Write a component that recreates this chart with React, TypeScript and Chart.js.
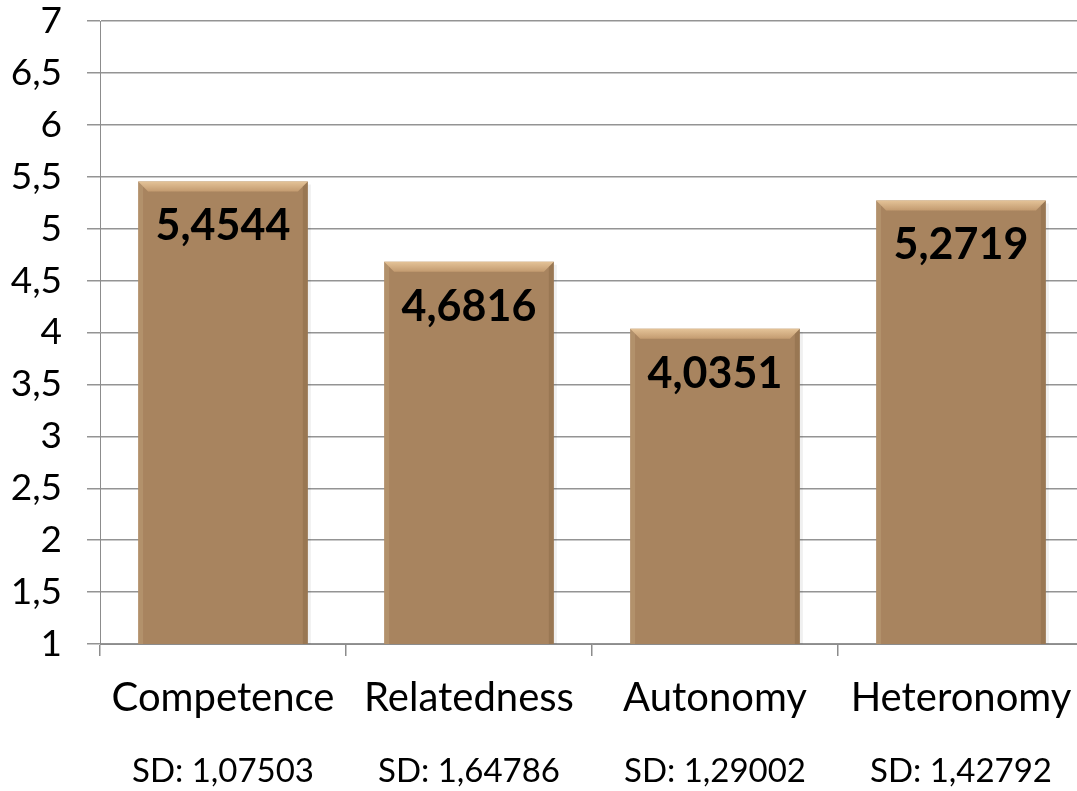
import { useEffect, useRef } from 'react';
import { Chart, registerables } from 'chart.js';

Chart.register(...registerables);

const categories = ['Competence', 'Relatedness', 'Autonomy', 'Heteronomy'];
const means = [5.4544, 4.6816, 4.0351, 5.2719];
const sdLabels = ['SD: 1,07503', 'SD: 1,64786', 'SD: 1,29002', 'SD: 1,42792'];
const yMin = 1;
const yMax = 7;
const yStep = 0.5;

const fmt = (v: number) => String(v).replace('.', ',');

export default function App() {
  const ref = useRef<HTMLCanvasElement>(null);

  useEffect(() => {
    document.body.style.margin = '0';
    const bevel = {
      id: 'bevel',
      afterDatasetsDraw(chart: any) {
        const ctx = chart.ctx;
        const area = chart.chartArea;
        chart.getDatasetMeta(0).data.forEach((el: any) => {
          const { x, y, width, base } = el.getProps(['x', 'y', 'width', 'base'], true);
          const l = x - width / 2;
          const r = x + width / 2;
          const t = y;
          const b = Math.min(base, area.bottom);
          const bv = 10;
          ctx.save();
          ctx.fillStyle = 'rgba(0,0,0,0.06)';
          ctx.fillRect(r, t + 3, 3, b - t - 3);
          const g = ctx.createLinearGradient(0, t, 0, t + bv);
          g.addColorStop(0, '#E4C398');
          g.addColorStop(1, '#C39B70');
          ctx.fillStyle = g;
          ctx.beginPath();
          ctx.moveTo(l, t);
          ctx.lineTo(r, t);
          ctx.lineTo(r - bv, t + bv);
          ctx.lineTo(l + bv, t + bv);
          ctx.closePath();
          ctx.fill();
          ctx.fillStyle = 'rgba(255,235,200,0.12)';
          ctx.beginPath();
          ctx.moveTo(l, t);
          ctx.lineTo(l + 5, t + 5);
          ctx.lineTo(l + 5, b);
          ctx.lineTo(l, b);
          ctx.closePath();
          ctx.fill();
          ctx.fillStyle = 'rgba(70,45,20,0.15)';
          ctx.beginPath();
          ctx.moveTo(r, t);
          ctx.lineTo(r, b);
          ctx.lineTo(r - 5, b);
          ctx.lineTo(r - 5, t + 5);
          ctx.closePath();
          ctx.fill();
          ctx.restore();
        });
      },
    };
    const valueLabels = {
      id: 'valueLabels',
      afterDraw(chart: any) {
        const ctx = chart.ctx;
        ctx.save();
        ctx.font = 'bold 43px Lato';
        ctx.fillStyle = '#000';
        ctx.textAlign = 'center';
        ctx.textBaseline = 'middle';
        chart.getDatasetMeta(0).data.forEach((el: any, i: number) => {
          const { x, y } = el.getProps(['x', 'y'], true);
          ctx.fillText(fmt(means[i]), x, y + 45);
        });
        ctx.restore();
      },
    };

    const chart = new Chart(ref.current as HTMLCanvasElement, {
      type: 'bar',
      data: {
        labels: categories,
        datasets: [
          {
            data: means,
            backgroundColor: '#A8845F',
            borderWidth: 0,
            barPercentage: 0.69,
            categoryPercentage: 1,
            xAxisID: 'x',
            yAxisID: 'y',
          },
        ],
      },
      options: {
        animation: false,
        responsive: false,
        layout: { padding: 0 },
        plugins: { legend: { display: false }, tooltip: { enabled: false } },
        scales: {
          x: {
            type: 'category',
            position: 'bottom',
            offset: true,
            grid: { offset: true, drawOnChartArea: false, drawTicks: true, tickLength: 12, color: '#8c8c8c', lineWidth: 1.5 },
            border: { display: true, color: '#8c8c8c', lineWidth: 1.5 },
            ticks: { font: { family: 'Lato', size: 40 }, color: '#000', padding: 18, maxRotation: 0, autoSkip: false },
            afterFit(s: any) { s.height = 90; s.paddingLeft = 0; s.paddingRight = 0; },
          },
          x2: {
            type: 'category',
            labels: sdLabels,
            position: 'bottom',
            offset: true,
            grid: { display: false },
            border: { display: false },
            ticks: { font: { family: 'Lato', size: 33 }, color: '#000', padding: 10, maxRotation: 0, autoSkip: false },
            afterFit(s: any) { s.height = 57; s.paddingLeft = 0; s.paddingRight = 0; },
          },
          y: {
            min: yMin,
            max: yMax,
            z: 1,
            ticks: {
              stepSize: yStep,
              callback: (v: any) => fmt(Number(v)),
              font: { family: 'Lato', size: 37 },
              color: '#000',
              padding: 25,
            },
            grid: { color: 'rgba(90,90,90,0.65)', lineWidth: 1.5, tickLength: 13 },
            border: { color: '#8c8c8c', lineWidth: 1.5 },
            afterFit(s: any) { s.width = 100; s.paddingTop = 21; s.paddingBottom = 0; },
          },
        },
      },
      plugins: [bevel, valueLabels],
    } as any);
    return () => chart.destroy();
  }, []);

  return (
    <div style={{ width: 1077, height: 791, overflow: 'hidden' }}>
      <canvas ref={ref} width={1084} height={791} style={{ display: 'block' }} />
    </div>
  );
}
